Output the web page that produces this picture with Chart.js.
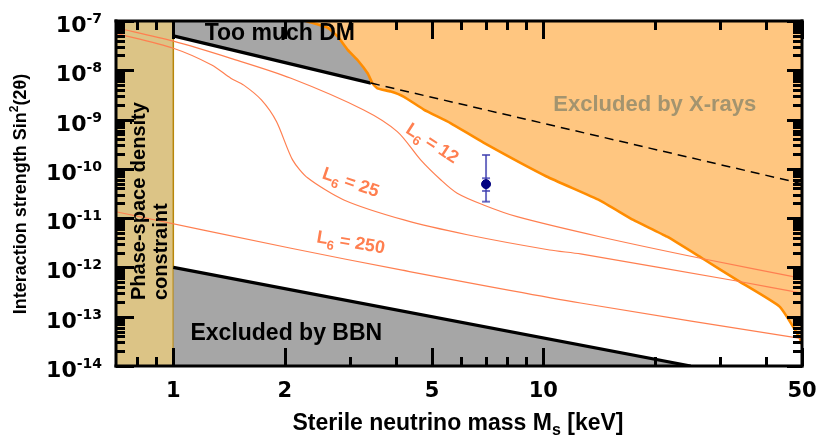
<!DOCTYPE html>
<html><head><meta charset="utf-8">
<script src="https://cdn.jsdelivr.net/npm/chart.js@4/dist/chart.umd.min.js"></script>
<style>html,body{margin:0;padding:0;background:#fff;}</style>
</head><body>
<canvas id="c" width="821" height="436"></canvas>
<script>
// ---- axes ----
const xRange = [0.7, 50];
const yRange = [1e-14, 1e-7];
const xTickValues = [1, 2, 5, 10, 50];
const xTickLabels = ['1', '2', '5', '10', '50'];
const xMinorTicks = [0.8, 0.9, 3, 4, 6, 7, 8, 9, 20, 30, 40];
const yTickExponents = [-14, -13, -12, -11, -10, -9, -8, -7];
const yMinorMultipliers = [2, 3, 4, 5, 6, 7, 8, 9];

// ---- regions / curves (mass in keV, mixing sin^2(2θ)) ----
const phaseSpaceMass = [0.7, 1];
const dmMass = [1, 3.42];
const dmMixing = [5e-8, 5.5e-9];
const dmDashMass = [3.42, 50];
const dmDashMixing = [5.5e-9, 5e-11];
const bbnMass = [1, 25];
const bbnMixing = [1e-12, 1e-14];
const xrayMass = [2.28, 2.62, 2.79, 2.96, 3.15, 3.35, 3.45, 3.56, 3.87, 4.2, 4.75, 5.61, 6.89, 10.2, 14.2, 17.5, 21.6, 27.0, 34.0, 43.5, 49.3, 50];
const xrayMixing = [1e-7, 7.2e-8, 4.7e-8, 2.6e-8, 1.6e-8, 8.7e-9, 5.5e-9, 4.3e-9, 3.7e-9, 2.9e-9, 1.6e-9, 8.5e-10, 3.4e-10, 7.0e-11, 2.3e-11, 9.2e-12, 4.2e-12, 1.5e-12, 5.1e-13, 1.6e-13, 3.7e-14, 2.7e-14];
const l6_12Mass = [0.7, 1.0, 1.43, 2.08, 3.27, 4.03, 4.66, 5.28, 5.85, 6.89, 8.49, 14.2, 27.0, 50];
const l6_12Mixing = [7.3e-8, 3.9e-8, 1.75e-8, 6.9e-9, 1.57e-9, 5.7e-10, 1.52e-10, 6.0e-11, 3.2e-11, 1.85e-11, 1.07e-11, 4.2e-12, 1.5e-12, 6.0e-13];
const l6_25Mass = [0.7, 1.0, 1.27, 1.43, 1.55, 1.73, 1.90, 2.10, 2.31, 2.89, 4.20, 6.23, 10.4, 12.6, 33.3, 50];
const l6_25Mixing = [5.6e-8, 2.8e-8, 1.28e-8, 6.9e-9, 5.0e-9, 2.5e-9, 9.1e-10, 1.52e-10, 6.5e-11, 2.34e-11, 9.2e-12, 4.6e-12, 2.26e-12, 1.88e-12, 5.3e-13, 3.0e-13];
const l6_250Mass = [0.7, 2.08, 4.12, 12.6, 50];
const l6_250Mixing = [1.35e-11, 2.45e-12, 8.9e-13, 1.9e-13, 3.6e-14];

// ---- measured point ----
const pointMass = [7.0];
const pointMixing = [4.9e-11];
const pointErrOuter = [2.16e-11, 1.91e-10];
const pointErrInner = [3.56e-11, 6.45e-11];

// ---- colours ----
const TAN = '#dcc486', TAN_EDGE = '#b8860b', GRAY = '#a6a6a6', ORANGE_FILL = '#ffc680',
      ORANGE = '#ff8c00', CORAL = '#ff7f50', NAVY = '#000080', ERR = 'rgba(60,60,175,0.75)', XRAYTXT = '#a3946f';

const zip = (xs, ys) => xs.map((x, i) => ({x, y: ys[i]}));
const lineDs = (label, data, opts) => Object.assign({label, data, showLine: true, pointRadius: 0, borderWidth: 1.2, fill: false, tension: 0}, opts);

const FONT = '"Liberation Sans", Arial, sans-serif';
const TFONT = '"DejaVu Sans", sans-serif';

function drawRich(ctx, parts, cx, cy, angle, align) {
  ctx.save();
  ctx.translate(cx, cy);
  ctx.rotate(angle);
  let total = 0;
  parts.forEach(p => { ctx.font = p.font; p.w = ctx.measureText(p.t).width; total += p.w; });
  let x0 = align === 'center' ? -total / 2 : (align === 'right' ? -total : 0);
  ctx.textAlign = 'left'; ctx.textBaseline = 'alphabetic';
  parts.forEach(p => { ctx.font = p.font; ctx.fillStyle = p.color || '#000'; ctx.fillText(p.t, x0, p.dy || 0); x0 += p.w; });
  ctx.restore();
}

const decor = {
  id: 'decor',
  afterDraw(chart) {
    const ctx = chart.ctx, a = chart.chartArea, xs = chart.scales.x, ys = chart.scales.y;
    const px = v => xs.getPixelForValue(v), py = v => ys.getPixelForValue(v);
    ctx.save();
    ctx.setLineDash([]);
    ctx.globalAlpha = 1;
    // region labels
    const big = 'bold 23px ' + FONT;
    drawRich(ctx, [{t: 'Too much DM', font: big}], px(1.94), py(4.12e-8), 0, 'center');
    drawRich(ctx, [{t: 'Excluded by X-rays', font: 'bold 22px ' + FONT, color: XRAYTXT}], px(20), py(1.49e-9), 0, 'center');
    drawRich(ctx, [{t: 'Excluded by BBN', font: big}], px(2.02), py(3.38e-14), 0, 'center');
    const ps = 'bold 20px ' + FONT;
    drawRich(ctx, [{t: 'Phase-space density', font: ps}], 145, 300, -Math.PI / 2, 'left');
    drawRich(ctx, [{t: 'constraint', font: ps}], 167, 300, -Math.PI / 2, 'left');
    // L6 labels
    const l6 = (val, mx, my, deg) => {
      const f = 'bold 18px ' + FONT, fs = 'bold 13px ' + FONT;
      drawRich(ctx, [{t: 'L', font: f, color: CORAL, dy: 6}, {t: '6', font: fs, color: CORAL, dy: 11},
                     {t: ' = ' + val, font: f, color: CORAL, dy: 6}], px(mx), py(my), deg * Math.PI / 180, 'center');
    };
    l6('12', 5.02, 3.35e-10, 33);
    l6('25', 3.02, 5.42e-11, 19);
    l6('250', 3.02, 3.29e-12, 9.5);

    // inward ticks (crisp, pixel aligned)
    const L = Math.round(a.left), R = Math.round(a.right), T = Math.round(a.top), B = Math.round(a.bottom);
    const vt = (p, len) => { const q = Math.round(p); ctx.fillStyle = '#000'; ctx.fillRect(q - 1, B - len, 3, len); ctx.fillRect(q - 1, T, 3, len); };
    const ht = (p, lenL, lenR) => { const q = Math.round(p); ctx.fillStyle = '#000'; ctx.fillRect(L, q - 1, lenL, 3); ctx.fillRect(R - lenR, q - 1, lenR, 3); };
    xTickValues.forEach(v => vt(px(v), 18));
    xMinorTicks.forEach(v => vt(px(v), 9));
    yTickExponents.forEach(e => {
      ht(py(Math.pow(10, e)), 18, 15);
      if (e < -7) yMinorMultipliers.forEach(k => ht(py(k * Math.pow(10, e)), 9, 9));
    });
    // frame
    ctx.fillStyle = '#000';
    ctx.fillRect(L - 1.5, T - 1.5, R - L + 3, 3);
    ctx.fillRect(L - 1.5, B - 1.5, R - L + 3, 3);
    ctx.fillRect(L - 1.5, T - 1.5, 3, B - T + 3);
    ctx.fillRect(R - 1.5, T - 1.5, 3, B - T + 3);

    // x tick labels
    ctx.fillStyle = '#000'; ctx.font = 'bold 21px ' + TFONT; ctx.textAlign = 'center'; ctx.textBaseline = 'alphabetic';
    xTickValues.forEach((v, i) => ctx.fillText(xTickLabels[i], px(v), 397));
    // y tick labels
    yTickExponents.forEach(e => {
      const p = py(Math.pow(10, e));
      drawRich(ctx, [{t: '10', font: 'bold 22px ' + TFONT}, {t: String(e), font: 'bold 14px ' + TFONT, dy: -9}], 102, p + 11, 0, 'right');
    });
    // axis titles
    drawRich(ctx, [{t: 'Sterile neutrino mass M', font: 'bold 23px ' + FONT}, {t: 's', font: 'bold 16px ' + FONT, dy: 5},
                   {t: ' [keV]', font: 'bold 23px ' + FONT}], 458, 430, 0, 'center');
    drawRich(ctx, [{t: 'Interaction strength Sin', font: 'bold 18px ' + FONT}, {t: '2', font: 'bold 12px ' + FONT, dy: -8},
                   {t: '(2θ)', font: 'bold 18px ' + FONT}], 26, 194, -Math.PI / 2, 'center');
    ctx.restore();
  }
};

new Chart(document.getElementById('c'), {
  type: 'scatter',
  data: {
    datasets: [
      lineDs('Phase-space density constraint', zip(phaseSpaceMass, [yRange[1], yRange[1]]), {fill: 'start', backgroundColor: TAN, borderColor: 'rgba(0,0,0,0)', borderWidth: 0, order: 20}),
      lineDs('Phase-space edge', zip([phaseSpaceMass[1], phaseSpaceMass[1]], yRange), {borderColor: TAN_EDGE, borderWidth: 1.5, order: 19}),
      lineDs('Too much DM', zip(dmMass, dmMixing), {fill: 'end', backgroundColor: GRAY, borderColor: '#000', borderWidth: 3.2, order: 18}),
      lineDs('Excluded by BBN', zip(bbnMass, bbnMixing), {fill: 'start', backgroundColor: GRAY, borderColor: '#000', borderWidth: 3.2, order: 17}),
      lineDs('Excluded by X-rays', zip(xrayMass, xrayMixing), {fill: 'end', backgroundColor: ORANGE_FILL, borderColor: ORANGE, borderWidth: 2.6, tension: 0.15, order: 16}),
      lineDs('DM dashed', zip(dmDashMass, dmDashMixing), {borderColor: '#000', borderWidth: 1.5, borderDash: [9, 6], order: 15}),
      lineDs('L6 = 12', zip(l6_12Mass, l6_12Mixing), {borderColor: CORAL, tension: 0.3, order: 14}),
      lineDs('L6 = 25', zip(l6_25Mass, l6_25Mixing), {borderColor: CORAL, tension: 0.25, order: 13}),
      lineDs('L6 = 250', zip(l6_250Mass, l6_250Mixing), {borderColor: CORAL, tension: 0.3, order: 12}),
      lineDs('error bar', zip([pointMass[0], pointMass[0]], pointErrOuter), {borderColor: ERR, borderWidth: 2, order: 5}),
      {label: 'caps', data: zip([pointMass[0], pointMass[0], pointMass[0], pointMass[0]], pointErrOuter.concat(pointErrInner)),
       pointStyle: 'line', pointRadius: 4, borderColor: ERR, borderWidth: 2, showLine: false, order: 4},
      {label: 'measured', data: zip(pointMass, pointMixing), pointRadius: 4.5, backgroundColor: NAVY, borderColor: NAVY, borderWidth: 1, showLine: false, order: 3}
    ]
  },
  options: {
    responsive: false, animation: false, devicePixelRatio: 1,
    layout: {padding: {left: 116, right: 19, top: 21, bottom: 70}},
    scales: {
      x: {type: 'logarithmic', min: xRange[0], max: xRange[1], display: false},
      y: {type: 'logarithmic', min: yRange[0], max: yRange[1], display: false}
    },
    plugins: {legend: {display: false}, tooltip: {enabled: false}}
  },
  plugins: [decor]
});
</script>
</body></html>
